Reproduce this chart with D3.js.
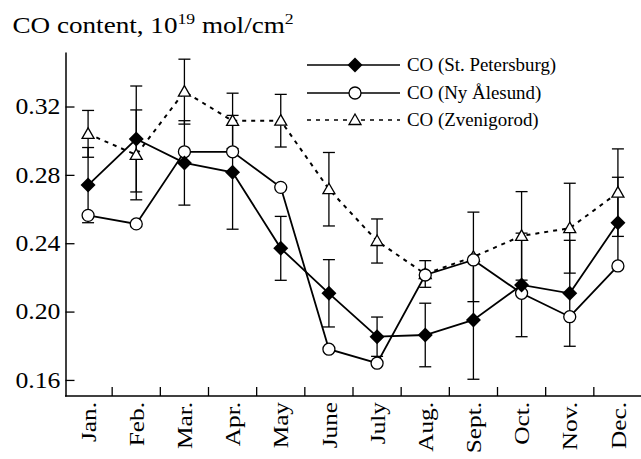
<!DOCTYPE html>
<html>
<head>
<meta charset="utf-8">
<script src="https://cdn.jsdelivr.net/npm/d3@7"></script>
<style>
  html, body { margin: 0; padding: 0; background: #fff; }
  svg { display: block; }
  svg text { font-family: "Liberation Serif", "Times New Roman", Times, serif; }
</style>
</head>
<body>
<svg id="chart" width="641" height="459"></svg>
<script>
// Monthly CO total column, 10^19 mol/cm^2
const months = ["Jan.", "Feb.", "Mar.", "Apr.", "May", "June", "July", "Aug.", "Sept.", "Oct.", "Nov.", "Dec."];
const stPetersburg    = [0.274, 0.301, 0.287, 0.2815, 0.237, 0.2107, 0.1853, 0.1863, 0.1951, 0.2156, 0.2107, 0.252];
const stPetersburgErr = [0.022, 0.031, 0.0247, 0.0333, 0.0187, 0.0197, 0.0115, 0.0186, 0.0347, 0.0303, 0.031, 0.0266];
const nyAlesund       = [0.2563, 0.2513, 0.2935, 0.2935, 0.2727, 0.178, 0.1698, 0.2214, 0.2302, 0.2107, 0.197, 0.2267];
const zvenigorod      = [0.304, 0.2917, 0.3287, 0.3116, 0.3117, 0.2716, 0.2413, 0.222, 0.232, 0.2443, 0.2488, 0.2696];
const zvenigorodErr   = [0.0137, 0.0263, 0.019, 0.0162, 0.0154, 0.0215, 0.0129, 0.0078, 0.0262, 0.0259, 0.0263, 0.0256];
const yTicks = [0.16, 0.20, 0.24, 0.28, 0.32];
const legendLabels = ["CO (St. Petersburg)", "CO (Ny \u00C5lesund)", "CO (Zvenigorod)"];

const FONT = "'Liberation Serif', 'Times New Roman', Times, serif";
const svg = d3.select("#chart");

const x = d3.scaleBand().domain(months).range([64, 642]).paddingInner(0).paddingOuter(0);
const cx = m => x(m) + x.bandwidth() / 2;
const y = d3.scaleLinear().domain([0.1506, 0.3519]).range([396, 52]);

// Title with superscripts (slightly wide lettering)
const title = svg.append("text")
  .attr("transform", "translate(12.5,33) scale(1.18,1)")
  .style("font-family", FONT)
  .attr("font-size", 23).attr("fill", "#000");
title.append("tspan").text("CO content, 10");
title.append("tspan").attr("font-size", 15).attr("dy", -9).text("19");
title.append("tspan").attr("dy", 9).text(" mol/cm");
title.append("tspan").attr("font-size", 15).attr("dy", -9).text("2");

// Y axis: inward ticks
const yAxis = d3.axisLeft(y)
  .tickValues(yTicks)
  .tickFormat(d3.format(".2f"))
  .tickSizeInner(-9)
  .tickSizeOuter(0)
  .tickPadding(5);
const gy = svg.append("g").attr("transform", "translate(65.5,0)").call(yAxis);
gy.attr("font-family", null).attr("font-size", null);
gy.select(".domain").attr("stroke-width", 1.5);
gy.selectAll(".tick line").attr("stroke-width", 1.3);
gy.selectAll(".tick text")
  .attr("x", -5 / 1.12)
  .attr("transform", "scale(1.12,1)")
  .style("font-family", FONT).attr("font-size", 23).attr("fill", "#000");

// X axis: baseline, inward ticks at month boundaries, rotated labels
const gx = svg.append("g");
gx.append("line")
  .attr("x1", 65).attr("x2", 641)
  .attr("y1", 396).attr("y2", 396)
  .attr("stroke", "#000").attr("stroke-width", 1.5);
gx.selectAll("line.tk").data(months.slice(1)).join("line")
  .attr("class", "tk")
  .attr("x1", d => x(d)).attr("x2", d => x(d))
  .attr("y1", 396).attr("y2", 387)
  .attr("stroke", "#000").attr("stroke-width", 1.3);
gx.selectAll("text").data(months).join("text")
  .attr("transform", d => `translate(${cx(d)},402) rotate(-90) scale(1.15,1)`)
  .attr("text-anchor", "end")
  .attr("dy", "0.35em")
  .style("font-family", FONT)
  .attr("font-size", 22)
  .attr("fill", "#000")
  .text(d => d);

const plot = svg.append("g");

// Error bars
function errorBars(vals, errs) {
  const g = plot.append("g").attr("stroke", "#000").attr("stroke-width", 1.3);
  months.forEach((m, i) => {
    const xx = cx(m), lo = y(vals[i] - errs[i]), hi = y(vals[i] + errs[i]);
    g.append("line").attr("x1", xx).attr("x2", xx).attr("y1", lo).attr("y2", hi);
    g.append("line").attr("x1", xx - 6).attr("x2", xx + 6).attr("y1", lo).attr("y2", lo);
    g.append("line").attr("x1", xx - 6).attr("x2", xx + 6).attr("y1", hi).attr("y2", hi);
  });
}
errorBars(zvenigorod, zvenigorodErr);
errorBars(stPetersburg, stPetersburgErr);

const line = d3.line().x((d, i) => cx(months[i])).y(d => y(d));

plot.append("path").datum(zvenigorod).attr("d", line)
  .attr("fill", "none").attr("stroke", "#000").attr("stroke-width", 2).attr("stroke-dasharray", "4,5");
plot.append("path").datum(nyAlesund).attr("d", line)
  .attr("fill", "none").attr("stroke", "#000").attr("stroke-width", 1.8);
plot.append("path").datum(stPetersburg).attr("d", line)
  .attr("fill", "none").attr("stroke", "#000").attr("stroke-width", 1.8);

const diamond = "M0,-7.5L7.5,0L0,7.5L-7.5,0Z";
const triangle = "M0,-6L6,4.5L-6,4.5Z";

function drawTriangles(g, pts) {
  g.selectAll("path.tri").data(pts).join("path").attr("class", "tri")
    .attr("transform", d => `translate(${d[0]},${d[1]})`)
    .attr("d", triangle).attr("fill", "#fff").attr("stroke", "#000").attr("stroke-width", 1.3);
}
function drawCircles(g, pts) {
  g.selectAll("circle").data(pts).join("circle")
    .attr("cx", d => d[0]).attr("cy", d => d[1]).attr("r", 6)
    .attr("fill", "#fff").attr("stroke", "#000").attr("stroke-width", 1.3);
}
function drawDiamonds(g, pts) {
  g.selectAll("path.dia").data(pts).join("path").attr("class", "dia")
    .attr("transform", d => `translate(${d[0]},${d[1]})`)
    .attr("d", diamond).attr("fill", "#000");
}

drawTriangles(plot.append("g"), zvenigorod.map((v, i) => [cx(months[i]), y(v)]));
drawCircles(plot.append("g"), nyAlesund.map((v, i) => [cx(months[i]), y(v)]));
drawDiamonds(plot.append("g"), stPetersburg.map((v, i) => [cx(months[i]), y(v)]));

// Legend
const leg = svg.append("g");
const rows = [65, 93, 120];
const lx1 = 307, lx2 = 400, lm = 355;
leg.append("line").attr("x1", lx1).attr("x2", lx2).attr("y1", rows[0]).attr("y2", rows[0]).attr("stroke", "#000").attr("stroke-width", 1.5);
leg.append("line").attr("x1", lx1).attr("x2", lx2).attr("y1", rows[1]).attr("y2", rows[1]).attr("stroke", "#000").attr("stroke-width", 1.5);
leg.append("line").attr("x1", lx1).attr("x2", lx2).attr("y1", rows[2]).attr("y2", rows[2]).attr("stroke", "#000").attr("stroke-width", 1.3).attr("stroke-dasharray", "4,5");
drawDiamonds(leg.append("g"), [[lm, rows[0]]]);
drawCircles(leg.append("g"), [[lm, rows[1]]]);
drawTriangles(leg.append("g"), [[lm, rows[2]]]);
leg.selectAll("text").data(legendLabels).join("text")
  .attr("transform", (d, i) => `translate(407,${rows[i]}) scale(1.05,1)`)
  .attr("dy", "0.35em")
  .style("font-family", FONT)
  .attr("font-size", 18).attr("fill", "#000")
  .text(d => d);
</script>
</body>
</html>
